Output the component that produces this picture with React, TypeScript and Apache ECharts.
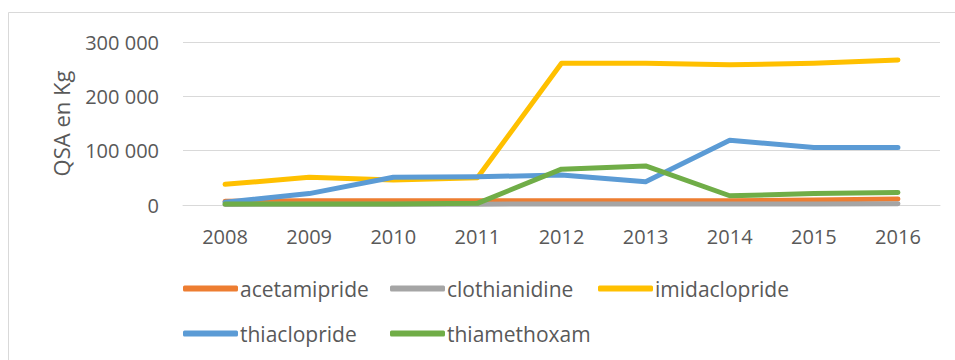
import React, { useEffect, useRef } from "react";
import * as echarts from "echarts";

const years = ["2008", "2009", "2010", "2011", "2012", "2013", "2014", "2015", "2016"];
const acetamipride = [7000, 8000, 8000, 8000, 8000, 8000, 8000, 9000, 11000];
const clothianidine = [1000, 1500, 1500, 1500, 2000, 2000, 2000, 2000, 2500];
const imidaclopride = [38000, 51000, 46000, 50000, 261000, 261000, 258000, 261000, 267000];
const thiaclopride = [5000, 21000, 51000, 52000, 55000, 43000, 119000, 106000, 106000];
const thiamethoxam = [2000, 2000, 2000, 3000, 66000, 72000, 17000, 21000, 23000];

const seriesNames = ["acetamipride", "clothianidine", "imidaclopride", "thiaclopride", "thiamethoxam"];
const seriesData = [acetamipride, clothianidine, imidaclopride, thiaclopride, thiamethoxam];
const colors = ["#ED7D31", "#A5A5A5", "#FFC000", "#5B9BD5", "#70AD47"];

const FONT = "'Open Sans', 'Noto Sans', sans-serif";
const TEXT = "#595959";

const fmt = (v: number) => String(v).replace(/\B(?=(\d{3})+(?!\d))/g, " ");

// legend grid: three columns, two rows
const legendColumns = [183, 390, 598];
const legendRows = [278, 323];

export default function App() {
  const ref = useRef<HTMLDivElement>(null);
  useEffect(() => {
    if (!ref.current) return;
    const chart = echarts.init(ref.current, undefined, { renderer: "svg" });
    const legends = seriesNames.map((name, i) => ({
      left: legendColumns[i % 3],
      top: legendRows[Math.floor(i / 3)],
      padding: 0,
      orient: "horizontal" as const,
      icon: "roundRect",
      itemWidth: 55,
      itemHeight: 6,
      itemGap: 0,
      data: [name],
      textStyle: { fontFamily: FONT, fontSize: 21, color: TEXT, padding: [0, 0, 0, -3] },
    }));
    chart.setOption({
      animation: false,
      color: colors,
      graphic: [
        {
          type: "rect",
          shape: { x: 8.5, y: 12.5, width: 960, height: 400 },
          style: { fill: "none", stroke: "#d9d9d9", lineWidth: 1 },
          silent: true,
        },
      ],
      grid: { left: 183, right: 15, top: 42, bottom: 155 },
      legend: legends,
      xAxis: {
        type: "category",
        data: years,
        boundaryGap: true,
        axisLine: { show: true, lineStyle: { color: "#d9d9d9" } },
        axisTick: { show: false },
        axisLabel: { color: TEXT, fontSize: 20, fontFamily: FONT, margin: 21 },
      },
      yAxis: {
        type: "value",
        min: 0,
        max: 300000,
        interval: 100000,
        name: "QSA en Kg",
        nameLocation: "middle",
        nameGap: 111,
        nameTextStyle: { color: TEXT, fontSize: 22, fontFamily: FONT },
        axisLine: { show: false },
        axisTick: { show: false },
        splitLine: { lineStyle: { color: "#d9d9d9", width: 1 } },
        axisLabel: {
          color: TEXT,
          fontSize: 20,
          fontFamily: FONT,
          margin: 24,
          formatter: (v: number) => fmt(v),
        },
      },
      series: seriesNames.map((name, i) => ({
        name,
        type: "line",
        data: seriesData[i],
        symbol: "none",
        lineStyle: { width: 5, color: colors[i], cap: "round", join: "round" },
        itemStyle: { color: colors[i] },
      })),
    });
    return () => chart.dispose();
  }, []);
  return (
    <div
      ref={ref}
      style={{ position: "fixed", left: 0, top: 0, width: 955, height: 360, background: "#fff" }}
    />
  );
}
